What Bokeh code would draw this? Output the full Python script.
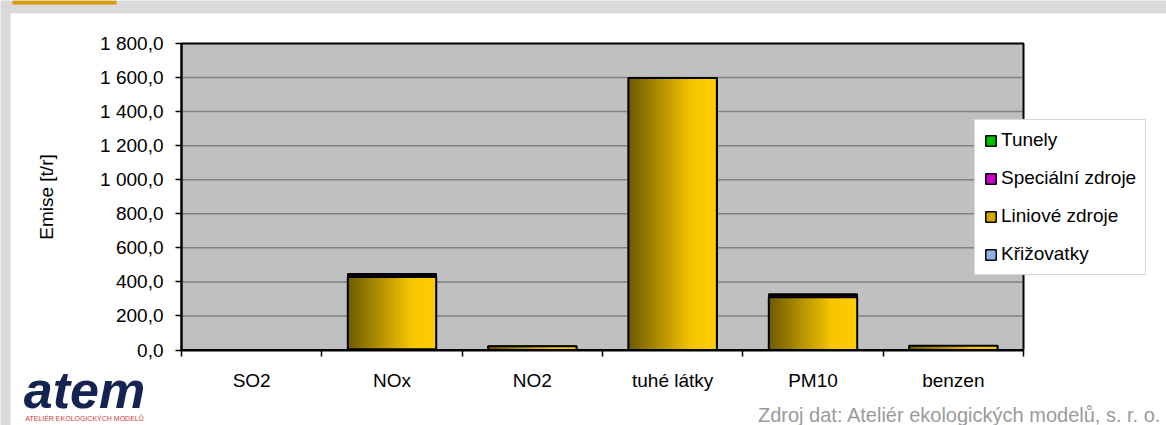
import numpy as np
from bokeh.plotting import figure
from bokeh.models import Range1d, FixedTicker, Legend, LegendItem, Label
from bokeh.embed import file_html
from bokeh.resources import INLINE

# ---- data ----
categories = ["SO2", "NOx", "NO2", "tuhé látky", "PM10", "benzen"]
krizovatky = [0.0, 5.0, 0.5, 0.0, 0.5, 0.3]
liniove = [0.0, 423.0, 21.0, 1598.0, 310.0, 24.0]
specialni = [0.0, 12.0, 0.0, 0.0, 11.0, 0.0]
tunely = [0.0, 8.0, 0.0, 0.0, 8.0, 0.0]
series_names = ["Křižovatky", "Liniové zdroje", "Speciální zdroje", "Tunely"]
y_ticks = [0, 200, 400, 600, 800, 1000, 1200, 1400, 1600, 1800]
y_label = "Emise [t/r]"
source_text = "Zdroj dat: Ateliér ekologických modelů, s. r. o."
logo_text = "atem"
logo_sub = "ATELIÉR EKOLOGICKÝCH MODELŮ"

FONT = "Liberation Sans"
FS = "19px"
W, H = 1166, 425

x_pos = np.arange(1, len(categories) + 1)
boundaries = [float(i) + 0.5 for i in range(len(categories) + 1)]
BAR_W = 0.63

# layout: where the plot area sits on the page (pixels)
PA_L, PA_R, PA_T, PA_B = 181.0, 1023.0, 43.0, 349.5
ppx = (PA_R - PA_L) / (boundaries[-1] - boundaries[0])
ppy = (PA_B - PA_T) / (y_ticks[-1] - y_ticks[0])
def px2x(px):
    return boundaries[0] + (px - PA_L) / ppx
def px2y(py):
    return y_ticks[0] + (PA_B - py) / ppy

p = figure(
    output_backend="svg", toolbar_location=None,
    width=W, height=H,
    min_border_left=0, min_border_right=0, min_border_top=0, min_border_bottom=0,
    x_range=Range1d(px2x(0), px2x(W)), y_range=Range1d(px2y(H), px2y(0)),
)
p.background_fill_color = "#d9d9d9"
p.border_fill_color = "white"
p.outline_line_color = None
p.xgrid.grid_line_color = None
p.ygrid.grid_line_color = None

# page panel + tab
p.quad(left=px2x(10), right=px2x(W), bottom=px2y(H), top=px2y(13),
       fill_color="white", line_color=None)
p.quad(left=px2x(12), right=px2x(116), bottom=px2y(4), top=px2y(0),
       fill_color="#d99c00", line_color=None)

# plot area and grid
p.quad(left=boundaries[0], right=boundaries[-1], bottom=y_ticks[0], top=y_ticks[-1],
       fill_color="#c0c0c0", line_color=None)
p.segment(x0=boundaries[0], x1=boundaries[-1], y0=y_ticks[1:-1], y1=y_ticks[1:-1],
          line_color="#808080", line_width=1.5)

# y axis
ya = p.yaxis[0]
ya.fixed_location = boundaries[0]
ya.bounds = (y_ticks[0], y_ticks[-1])
ya.ticker = FixedTicker(ticks=y_ticks)
ya.major_label_overrides = {
    t: f"{t:,.1f}".replace(",", " ").replace(".", ",") for t in y_ticks
}
ya.major_tick_out = 6
ya.major_tick_in = 0
ya.major_tick_line_width = 1.5
ya.minor_tick_line_color = None
ya.axis_line_width = 2
ya.major_label_text_font = FONT
ya.major_label_text_font_size = FS
ya.major_label_text_color = "black"
ya.major_label_standoff = 12
ya.axis_label = y_label
ya.axis_label_text_font = FONT
ya.axis_label_text_font_size = FS
ya.axis_label_text_font_style = "normal"
ya.axis_label_text_color = "black"
ya.axis_label_standoff = 40

# x axis: labels at centres, tick marks at boundaries (minor ticks)
xa = p.xaxis[0]
xa.fixed_location = y_ticks[0]
xa.bounds = (boundaries[0], boundaries[-1])
xa.ticker = FixedTicker(ticks=[int(v) for v in x_pos], minor_ticks=boundaries)
xa.major_label_overrides = {int(v): c for v, c in zip(x_pos, categories)}
xa.major_tick_out = 0
xa.major_tick_in = 0
xa.minor_tick_out = 6
xa.minor_tick_in = 0
xa.minor_tick_line_color = "black"
xa.minor_tick_line_width = 1.5
xa.axis_line_width = 2
xa.major_label_text_font = FONT
xa.major_label_text_font_size = FS
xa.major_label_text_color = "black"
xa.major_label_standoff = 14

# ---- stacked bars ----
series = [krizovatky, liniove, specialni, tunely]
colors = ["#8db4e2", "#d4a800", "#cc00cc", "#00c000"]
bottom = np.zeros(len(categories))
renderers = {}
stack_bounds = {}
for name, vals, col in zip(series_names, series, colors):
    vals = np.array(vals, dtype=float)
    top = bottom + vals
    mask = vals > 0
    r = p.vbar(x=x_pos[mask], width=BAR_W, bottom=bottom[mask], top=top[mask],
               fill_color=col, line_color="black", line_width=1.5)
    renderers[name] = r
    stack_bounds[name] = (bottom.copy(), top.copy(), mask)
    bottom = top

# gradient fill for "Liniové zdroje" segments (dark olive -> yellow)
def lerp_color(c0, c1, t):
    a = [int(c0[i:i + 2], 16) for i in (1, 3, 5)]
    b = [int(c1[i:i + 2], 16) for i in (1, 3, 5)]
    return "#%02x%02x%02x" % tuple(int(round(a[k] + (b[k] - a[k]) * t)) for k in range(3))

N = 48
stops = [(0.0, "#6e5a00"), (0.72, "#f6c600"), (1.0, "#ffcc00")]
def grad(t):
    for (t0, c0), (t1, c1) in zip(stops[:-1], stops[1:]):
        if t <= t1:
            return lerp_color(c0, c1, (t - t0) / (t1 - t0))
    return stops[-1][1]

lb, lt, lm = stack_bounds["Liniové zdroje"]
L, R, B, T, C = [], [], [], [], []
dw = BAR_W / N
for xi, b0, t0, m in zip(x_pos, lb, lt, lm):
    if not m:
        continue
    left0 = xi - BAR_W / 2
    for k in range(N):
        l = left0 + k * dw
        L.append(l)
        R.append(min(l + 2 * dw, left0 + BAR_W))
        B.append(b0)
        T.append(t0)
        C.append(grad((k + 0.5) / N))
p.quad(left=L, right=R, bottom=B, top=T, fill_color=C, line_color=None)
p.vbar(x=x_pos[lm], width=BAR_W, bottom=lb[lm], top=lt[lm],
       fill_color=None, line_color="black", line_width=2)

# plot-area border
p.quad(left=boundaries[0], right=boundaries[-1], bottom=y_ticks[0], top=y_ticks[-1],
       fill_color=None, line_color="black", line_width=2)

# ---- legend ----
legend = Legend(
    items=[LegendItem(label=n, renderers=[renderers[n]]) for n in reversed(series_names)],
    location=(974, 150),
    orientation="vertical",
    label_text_font=FONT, label_text_font_size=FS, label_text_color="black",
    glyph_width=13, glyph_height=13, label_height=22, label_standoff=4,
    spacing=16, padding=9, margin=0,
    border_line_color="#b0b0b0", border_line_width=1,
    background_fill_color="white", background_fill_alpha=1.0,
)
p.add_layout(legend)

# ---- source note and logo text ----
p.add_layout(Label(x=1161, y=H - 414, x_units="screen", y_units="screen", text=source_text,
                   text_align="right", text_baseline="middle", text_font=FONT,
                   text_font_size="20px", text_color="#9a9a9a"))
p.add_layout(Label(x=84, y=H - 389, x_units="screen", y_units="screen", text=logo_text,
                   text_align="center", text_baseline="middle", text_font=FONT,
                   text_font_size="52px", text_font_style="bold italic",
                   text_color="#14234f"))
p.add_layout(Label(x=84, y=H - 418, x_units="screen", y_units="screen", text=logo_sub,
                   text_align="center", text_baseline="middle", text_font=FONT,
                   text_font_size="7px", text_color="#d03a3a"))

open("out.html", "w").write(file_html(p, INLINE))
